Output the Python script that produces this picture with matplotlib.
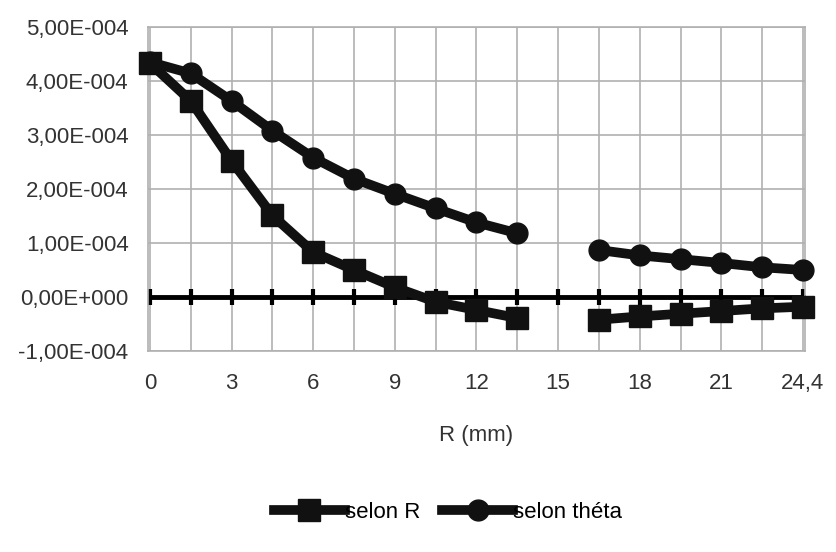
import numpy as np
import matplotlib
matplotlib.use("Agg")
import matplotlib.pyplot as plt

plt.rcParams['font.family'] = ['Liberation Sans', 'DejaVu Sans']

# R positions (mm), one category each
r_labels = ['0', '1,5', '3', '4,5', '6', '7,5', '9', '10,5', '12', '13,5',
            '15', '16,5', '18', '19,5', '21', '22,5', '24,4']
selon_r = [4.33e-4, 3.63e-4, 2.52e-4, 1.51e-4, 0.83e-4, 0.50e-4, 0.18e-4,
           -0.09e-4, -0.24e-4, -0.39e-4, np.nan, -0.42e-4, -0.36e-4,
           -0.31e-4, -0.26e-4, -0.21e-4, -0.18e-4]
selon_theta = [4.35e-4, 4.14e-4, 3.63e-4, 3.08e-4, 2.58e-4, 2.19e-4, 1.91e-4,
               1.64e-4, 1.38e-4, 1.18e-4, np.nan, 0.87e-4, 0.77e-4,
               0.70e-4, 0.63e-4, 0.55e-4, 0.50e-4]
y_ticks = [-1e-4, 0, 1e-4, 2e-4, 3e-4, 4e-4, 5e-4]


def fmt_sci(v):
    # Excel-ish "4,00E-004"
    m, e = ('%.2E' % v).split('E')
    sign = '-' if int(e) < 0 else '+'
    return m.replace('.', ',') + 'E' + sign + '%03d' % abs(int(e))


fig = plt.figure(figsize=(8.37, 5.52), dpi=100)
ax = fig.add_axes([148 / 837, 1 - 351 / 552, (805 - 148) / 837, (351 - 27) / 552])

x = np.arange(len(r_labels))

ax.set_xlim(-0.05, len(x) - 1 + 0.05)
ax.set_ylim(y_ticks[0], y_ticks[-1])
ax.set_yticks(y_ticks)
ax.set_yticklabels([fmt_sci(v) for v in y_ticks])
ax.set_xticks(x)
ax.set_xticklabels([lab if i % 2 == 0 else '' for i, lab in enumerate(r_labels)])
ax.tick_params(length=0, labelsize=16, colors='#333333')
ax.tick_params(axis='x', pad=16)
ax.tick_params(axis='y', pad=14)
ax.grid(True, color='#b0b0b0', lw=1.2)
ax.set_axisbelow(True)
for sp in ax.spines.values():
    sp.set_color('#b0b0b0')
    sp.set_linewidth(1.2)

# zero axis line with category tick marks
ax.plot(x, np.zeros(len(x)), color='black', lw=3.5, marker='|', ms=11, mew=3,
        zorder=2, clip_on=False)

ax.plot(x, selon_r, color='#111111', lw=7, marker='s', ms=16,
        label='selon R', zorder=3, clip_on=False)
ax.plot(x, selon_theta, color='#111111', lw=7, marker='o', ms=15,
        label='selon théta', zorder=3, clip_on=False)

ax.set_xlabel('R (mm)', fontsize=16, color='#333333', labelpad=22)

fig.legend(loc='center', bbox_to_anchor=(448 / 837, 1 - 512 / 552), ncol=2,
           frameon=False, fontsize=16, handlelength=3.2, handletextpad=0.0,
           columnspacing=1.0)

fig.savefig('out.png', dpi=100)
